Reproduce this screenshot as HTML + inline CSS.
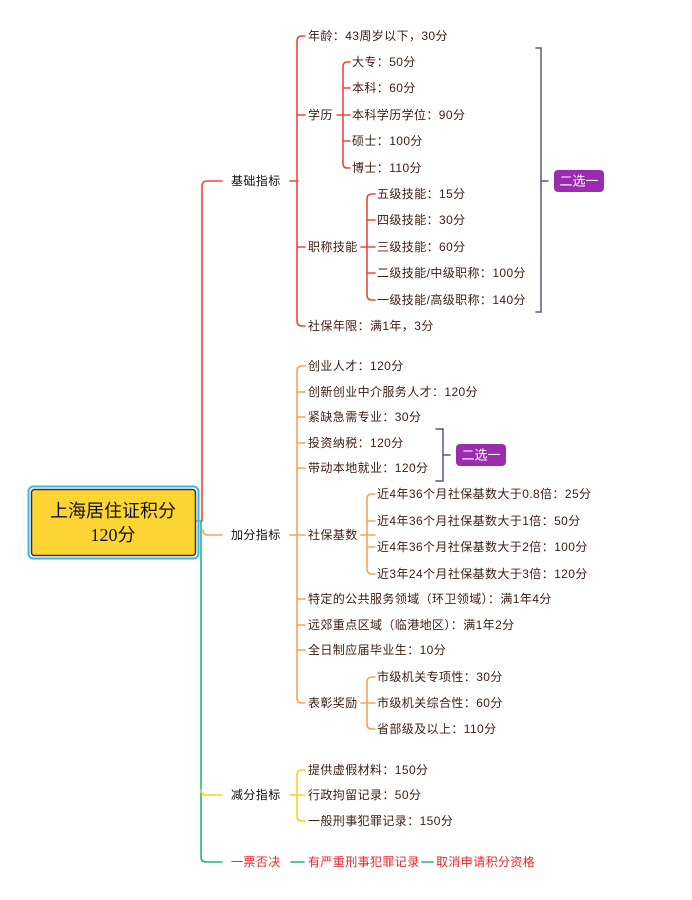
<!DOCTYPE html>
<html><head><meta charset="utf-8">
<style>
html,body{margin:0;padding:0;background:#fff;}
svg{display:block;}
text{font-family:"Liberation Sans","Noto Sans CJK SC",sans-serif;font-size:12px;letter-spacing:0.4px;fill:#3c1e14;dominant-baseline:central;}
.l1{fill:#111;}
.red{fill:#e8262d;}
.w{fill:#fff;}
</style></head><body>
<svg width="692" height="900" viewBox="0 0 692 900" xmlns="http://www.w3.org/2000/svg">
<g fill="none" stroke-width="1.6" stroke-linecap="round">
<path d="M202 521 V186 Q202 181 207 181 H222" stroke="#f2453d"/>
<path d="M203 530 Q203 535 208 535 H222" stroke="#f7a45a"/>
<path d="M197 521 H201 V857 Q201 862 206 862 H222" stroke="#1fb87a"/>
<path d="M201 790 Q201 795 206 795 H222" stroke="#f5d327"/>

<g stroke="#f2453d">
<path d="M290 181 H298"/>
<path d="M305 36 H302 Q297 36 297 41 V321 Q297 326 302 326 H305"/>
<path d="M297 115 H305"/><path d="M297 247 H305"/>
<path d="M337 115 H350"/>
<path d="M350 62 H347 Q343 62 343 67 V163 Q343 168 347 168 H350"/>
<path d="M343 88 H350"/><path d="M343 141 H350"/>
<path d="M361 247 H375"/>
<path d="M375 194 H372 Q367 194 367 199 V295 Q367 300 372 300 H375"/>
<path d="M367 220 H375"/><path d="M367 273 H375"/>
</g>
<g stroke="#f7a45a">
<path d="M290 535 H298"/>
<path d="M305 366 H302 Q297 366 297 371 V698 Q297 703 302 703 H305"/>
<path d="M297 392 H305"/><path d="M297 417 H305"/><path d="M297 443 H305"/><path d="M297 468 H305"/>
<path d="M297 535 H305"/><path d="M297 599 H305"/><path d="M297 625 H305"/><path d="M297 650 H305"/>
<path d="M361 535 H375"/>
<path d="M375 494 H372 Q367 494 367 499 V569 Q367 574 372 574 H375"/>
<path d="M367 521 H375"/><path d="M367 547 H375"/>
<path d="M361 703 H375"/>
<path d="M375 677 H372 Q367 677 367 682 V724 Q367 729 372 729 H375"/>
</g>
<g stroke="#f5d327">
<path d="M290 795 H298"/>
<path d="M305 770 H302 Q297 770 297 775 V816 Q297 821 302 821 H305"/>
<path d="M297 795 H305"/>
</g>
<g stroke="#1fb87a">
<path d="M291 862 H304"/><path d="M422 862 H433"/>
</g>
<g stroke="#555a7a" stroke-width="1.5">
<path d="M536 48 H541 V312 H536"/><path d="M541 181 H548"/>
<path d="M436 429 H443 V481 H436"/><path d="M443 455 H450"/>
</g>
</g>

<rect x="554" y="170" width="50" height="22" rx="4" fill="#9b2cb0"/>
<text x="579" y="181" text-anchor="middle" class="w" style="font-size:13px;letter-spacing:0">二选一</text>
<rect x="456" y="444" width="50" height="22" rx="4" fill="#9b2cb0"/>
<text x="481" y="455" text-anchor="middle" class="w" style="font-size:13px;letter-spacing:0">二选一</text>

<rect x="28.5" y="486.5" width="170" height="72" rx="5" fill="none" stroke="#3bb5f0" stroke-width="2"/>
<rect x="31.5" y="489.5" width="164" height="66" rx="3" fill="#fcd535" stroke="#333" stroke-width="1.5"/>
<text x="113" y="511" text-anchor="middle" style="font-size:18px;letter-spacing:0;fill:#111">上海居住证积分</text>
<text x="113" y="535" text-anchor="middle" style="font-size:18px;letter-spacing:0;fill:#111;font-family:'Liberation Serif','Noto Sans CJK SC',serif">120分</text>

<text x="231" y="181" class="l1">基础指标</text>
<text x="231" y="535" class="l1">加分指标</text>
<text x="231" y="795" class="l1">减分指标</text>
<text x="231" y="862" class="red">一票否决</text>

<text x="308" y="36">年龄：43周岁以下，30分</text>
<text x="308" y="115">学历</text>
<text x="308" y="247">职称技能</text>
<text x="308" y="326">社保年限：满1年，3分</text>
<text x="352" y="62">大专：50分</text>
<text x="352" y="88">本科：60分</text>
<text x="352" y="115">本科学历学位：90分</text>
<text x="352" y="141">硕士：100分</text>
<text x="352" y="168">博士：110分</text>
<text x="377" y="194">五级技能：15分</text>
<text x="377" y="220">四级技能：30分</text>
<text x="377" y="247">三级技能：60分</text>
<text x="377" y="273">二级技能/中级职称：100分</text>
<text x="377" y="300">一级技能/高级职称：140分</text>

<text x="308" y="366">创业人才：120分</text>
<text x="308" y="392">创新创业中介服务人才：120分</text>
<text x="308" y="417">紧缺急需专业：30分</text>
<text x="308" y="443">投资纳税：120分</text>
<text x="308" y="468">带动本地就业：120分</text>
<text x="308" y="535">社保基数</text>
<text x="377" y="494">近4年36个月社保基数大于0.8倍：25分</text>
<text x="377" y="521">近4年36个月社保基数大于1倍：50分</text>
<text x="377" y="547">近4年36个月社保基数大于2倍：100分</text>
<text x="377" y="574">近3年24个月社保基数大于3倍：120分</text>
<text x="308" y="599">特定的公共服务领域（环卫领域）：满1年4分</text>
<text x="308" y="625">远郊重点区域（临港地区）：满1年2分</text>
<text x="308" y="650">全日制应届毕业生：10分</text>
<text x="308" y="703">表彰奖励</text>
<text x="377" y="677">市级机关专项性：30分</text>
<text x="377" y="703">市级机关综合性：60分</text>
<text x="377" y="729">省部级及以上：110分</text>

<text x="308" y="770">提供虚假材料：150分</text>
<text x="308" y="795">行政拘留记录：50分</text>
<text x="308" y="821">一般刑事犯罪记录：150分</text>

<text x="308" y="862" class="red">有严重刑事犯罪记录</text>
<text x="436" y="862" class="red">取消申请积分资格</text>
</svg>
</body></html>
